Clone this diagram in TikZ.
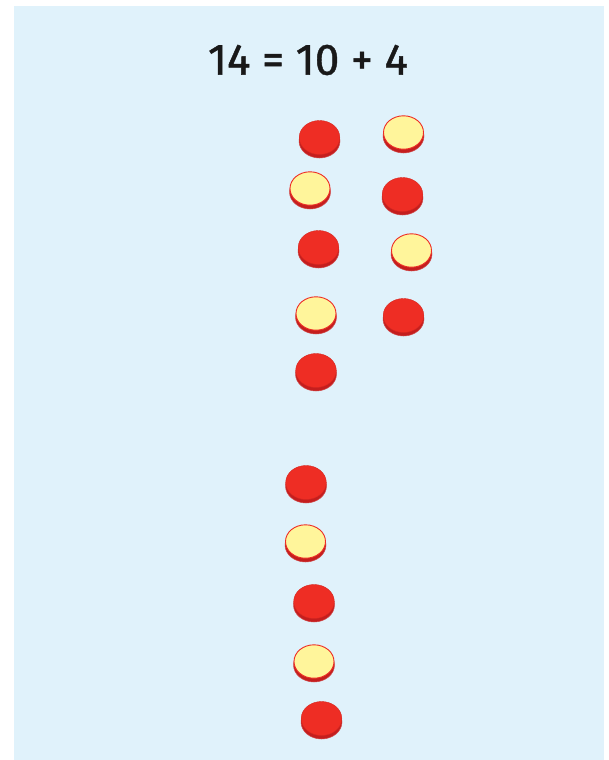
\documentclass[tikz,border=0pt]{standalone}
\usepackage{fontspec}
\setmainfont{Fira Sans}
\newfontfamily\titlefont{Fira Sans}[BoldFont={Fira Sans},BoldFeatures={FakeBold=1.0}]
\definecolor{bgblue}{HTML}{E0F2FB}
\definecolor{cred}{HTML}{EE2D24}
\definecolor{crim}{HTML}{C41E1E}
\definecolor{cyel}{HTML}{FFF59B}
\tikzset{
  redrim/.style={fill=crim, draw=crim!80!white, line width=0.5pt},
  redface/.style={fill=cred, draw=cred!90!black, line width=0.4pt},
  yelface/.style={fill=cyel, draw=cred, line width=0.9pt},
  title/.style={font=\titlefont\bfseries\fontsize{44}{50}\selectfont, text=black!90}
}
\begin{document}
\begin{tikzpicture}[x=1pt,y=-1pt]
\useasboundingbox (0,0) rectangle (609,760);
\fill[bgblue] (14,6) rectangle (604,760);
\node[title] (eq) at (308,60) {14 = 10 + 4};
% red counters
\foreach \cx/\cy in {319.5/139, 402.5/196, 318.5/249, 403.5/317, 316/372, 306/484, 314/603, 321.5/720}{
  \fill[redrim] (\cx,\cy+2) ellipse [x radius=20.5, y radius=17];
  \fill[redface] (\cx,\cy-1.5) ellipse [x radius=20.3, y radius=17];
}
% yellow counters
\foreach \cx/\cy in {403.5/134, 310/190, 411.5/252, 316/315, 305.5/543, 314/663}{
  \fill[redrim] (\cx,\cy+2) ellipse [x radius=20.5, y radius=17];
  \filldraw[yelface] (\cx,\cy-1.5) ellipse [x radius=20, y radius=16.7];
}
\end{tikzpicture}
\end{document}
